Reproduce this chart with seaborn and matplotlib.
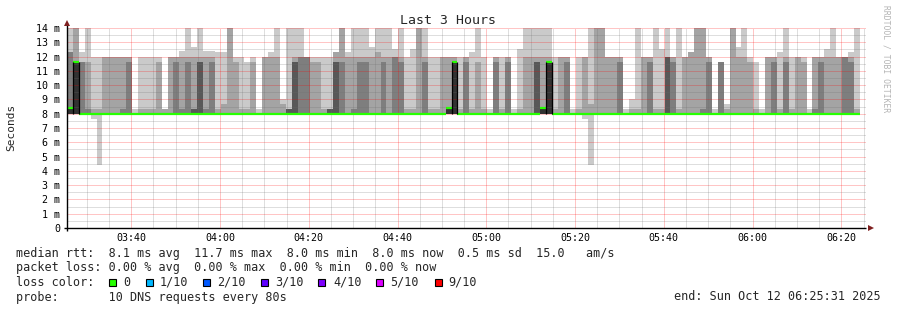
import numpy as np
import pandas as pd
import matplotlib
matplotlib.use("Agg")
import matplotlib.pyplot as plt
import matplotlib.dates as mdates
from matplotlib.patches import Rectangle
import seaborn as sns

# ---------------- data (ms) ----------------
step_start = "2025-10-12 03:25:30"
step_seconds = 80
view_start = "2025-10-12 03:25:31"
view_end = "2025-10-12 06:25:31"

median_rtt = [8.4, 11.6, 8.0, 8.0, 8.0, 8.0, 8.0, 8.0, 8.0, 8.0,
              8.0, 8.0, 8.0, 8.0, 8.0, 8.0, 8.0, 8.0, 8.0, 8.0,
              8.0, 8.0, 8.0, 8.0, 8.0, 8.0, 8.0, 8.0, 8.0, 8.0,
              8.0, 8.0, 8.0, 8.0, 8.0, 8.0, 8.0, 8.0, 8.0, 8.0,
              8.0, 8.0, 8.0, 8.0, 8.0, 8.0, 8.0, 8.0, 8.0, 8.0,
              8.0, 8.0, 8.0, 8.0, 8.0, 8.0, 8.0, 8.0, 8.0, 8.0,
              8.0, 8.0, 8.0, 8.0, 8.4, 11.6, 8.0, 8.0, 8.0, 8.0,
              8.0, 8.0, 8.0, 8.0, 8.0, 8.0, 8.0, 8.0, 8.0, 8.0,
              8.4, 11.6, 8.0, 8.0, 8.0, 8.0, 8.0, 8.0, 8.0, 8.0,
              8.0, 8.0, 8.0, 8.0, 8.0, 8.0, 8.0, 8.0, 8.0, 8.0,
              8.0, 8.0, 8.0, 8.0, 8.0, 8.0, 8.0, 8.0, 8.0, 8.0,
              8.0, 8.0, 8.0, 8.0, 8.0, 8.0, 8.0, 8.0, 8.0, 8.0,
              8.0, 8.0, 8.0, 8.0, 8.0, 8.0, 8.0, 8.0, 8.0, 8.0,
              8.0, 8.0, 8.0, 8.0]

min_rtt = [8.0, 8.0, 8.0, 8.0, 7.6, 4.4, 8.0, 8.0, 8.0, 8.0,
           8.0, 8.0, 8.0, 8.0, 8.0, 8.0, 8.0, 8.0, 8.0, 8.0,
           8.0, 8.0, 8.0, 8.0, 8.0, 8.0, 8.0, 8.0, 8.0, 8.0,
           8.0, 8.0, 8.0, 8.0, 8.0, 8.0, 8.0, 8.0, 8.0, 8.0,
           8.0, 8.0, 8.0, 8.0, 8.0, 8.0, 8.0, 8.0, 8.0, 8.0,
           8.0, 8.0, 8.0, 8.0, 8.0, 8.0, 8.0, 8.0, 8.0, 8.0,
           8.0, 8.0, 8.0, 8.0, 8.0, 8.0, 8.0, 8.0, 8.0, 8.0,
           8.0, 8.0, 8.0, 8.0, 8.0, 8.0, 8.0, 8.0, 8.0, 8.0,
           8.0, 8.0, 8.0, 8.0, 8.0, 8.0, 8.0, 7.6, 4.4, 8.0,
           8.0, 8.0, 8.0, 8.0, 8.0, 8.0, 8.0, 8.0, 8.0, 8.0,
           8.0, 8.0, 8.0, 8.0, 8.0, 8.0, 8.0, 8.0, 8.0, 8.0,
           8.0, 8.0, 8.0, 8.0, 8.0, 8.0, 8.0, 8.0, 8.0, 8.0,
           8.0, 8.0, 8.0, 8.0, 8.0, 8.0, 8.0, 8.0, 8.0, 8.0,
           8.0, 8.0, 8.0, 8.0]

ping7 = [8.4, 11.6, 8.0, 8.0, 8.0, 8.0, 8.0, 8.0, 8.0, 8.0,
         8.0, 8.0, 8.0, 8.0, 8.0, 8.0, 8.0, 8.0, 8.0, 8.0,
         8.0, 8.3, 11.6, 8.0, 8.0, 8.0, 8.0, 8.0, 8.0, 8.0,
         8.0, 8.0, 8.0, 8.0, 8.0, 8.0, 8.0, 8.3, 11.6, 8.0,
         8.0, 8.0, 8.0, 8.0, 8.3, 11.6, 8.0, 8.0, 8.0, 8.0,
         8.0, 8.0, 8.0, 8.0, 8.0, 8.0, 8.0, 8.0, 8.0, 8.0,
         8.0, 8.0, 8.0, 8.0, 8.4, 11.6, 8.0, 8.0, 8.0, 8.0,
         8.0, 8.0, 8.0, 8.0, 8.0, 8.0, 8.0, 8.0, 8.0, 11.6,
         8.4, 11.6, 8.0, 8.0, 8.0, 8.0, 8.0, 8.0, 8.0, 8.0,
         8.0, 8.0, 8.0, 8.0, 8.0, 8.0, 8.0, 8.0, 8.0, 8.0,
         8.0, 12.0, 8.0, 8.0, 8.0, 8.0, 8.0, 8.0, 8.0, 8.0,
         8.0, 8.0, 8.0, 8.0, 8.0, 8.0, 8.0, 8.0, 8.0, 8.0,
         8.0, 8.0, 8.0, 8.0, 8.0, 8.0, 8.0, 8.0, 8.0, 8.0,
         8.0, 8.0, 8.0, 8.0]

ping8 = [12.3, 11.6, 11.6, 8.3, 8.0, 8.0, 8.0, 8.0, 8.0, 8.3,
         11.6, 8.0, 8.0, 8.0, 8.0, 8.0, 8.0, 8.0, 11.6, 8.3,
         11.6, 8.3, 11.6, 8.3, 11.6, 8.0, 8.0, 8.0, 8.0, 8.0,
         8.0, 8.0, 8.0, 8.0, 8.0, 8.0, 8.0, 8.3, 11.6, 12.0,
         12.0, 8.0, 8.0, 8.0, 8.3, 11.6, 11.6, 8.0, 8.3, 11.6,
         11.6, 8.0, 8.0, 11.6, 8.0, 12.0, 11.6, 8.0, 8.0, 8.0,
         11.6, 8.0, 8.0, 8.0, 8.4, 11.6, 8.0, 11.6, 8.0, 8.0,
         8.0, 8.0, 11.6, 8.0, 11.6, 8.0, 8.0, 8.0, 8.0, 11.6,
         8.4, 11.6, 8.0, 8.0, 11.6, 8.0, 8.0, 8.0, 8.0, 8.0,
         8.0, 8.0, 8.0, 11.6, 8.0, 8.0, 8.0, 8.0, 11.6, 8.0,
         8.0, 12.0, 11.6, 8.0, 8.0, 8.0, 8.0, 8.3, 11.6, 8.0,
         11.6, 8.0, 8.0, 8.0, 8.0, 8.0, 8.0, 8.0, 8.0, 11.6,
         8.0, 11.6, 8.0, 8.0, 8.0, 8.0, 8.3, 11.6, 8.0, 8.0,
         8.0, 12.0, 11.6, 8.0]

ping9 = [12.3, 14.0, 11.6, 11.6, 8.3, 8.3, 12.0, 12.0, 12.0, 12.0,
         12.0, 8.0, 8.3, 8.3, 8.3, 11.6, 8.3, 12.0, 12.0, 12.0,
         12.0, 12.0, 12.0, 12.0, 12.0, 8.3, 8.7, 14.0, 11.6, 8.3,
         8.3, 11.6, 8.0, 12.0, 12.0, 12.0, 8.7, 8.3, 12.0, 12.0,
         12.0, 11.6, 11.6, 8.3, 8.3, 12.3, 14.0, 12.0, 12.0, 12.0,
         12.0, 12.0, 12.3, 12.0, 12.0, 12.0, 12.0, 8.3, 8.3, 14.0,
         12.0, 8.3, 8.3, 12.0, 12.0, 12.0, 8.3, 12.0, 8.3, 11.6,
         8.3, 8.0, 12.0, 8.3, 12.0, 8.0, 8.3, 12.0, 12.0, 12.0,
         12.0, 12.0, 8.3, 12.0, 12.0, 8.0, 8.3, 12.0, 8.7, 14.0,
         14.0, 12.0, 12.0, 12.0, 8.0, 8.3, 8.3, 12.0, 12.0, 8.3,
         8.3, 12.0, 12.0, 8.3, 12.0, 12.3, 14.0, 14.0, 12.0, 8.0,
         11.6, 8.3, 14.0, 12.0, 12.0, 11.6, 8.3, 8.0, 12.0, 12.0,
         8.3, 12.0, 8.3, 12.0, 11.6, 8.0, 12.0, 12.0, 12.0, 12.0,
         12.0, 12.0, 12.0, 8.3]

max_rtt = [14.0, 14.0, 12.3, 14.0, 12.0, 12.0, 12.0, 12.0, 12.0, 12.0,
           12.0, 8.3, 12.0, 12.0, 12.0, 12.0, 8.3, 12.0, 12.0, 12.4,
           14.0, 12.65, 14.0, 12.4, 12.4, 12.3, 12.3, 14.0, 12.0, 12.0,
           11.6, 12.0, 8.3, 12.0, 12.3, 14.0, 9.0, 14.0, 14.0, 14.0,
           12.0, 12.0, 12.0, 12.0, 12.0, 12.3, 14.0, 12.3, 14.0, 14.0,
           14.0, 12.65, 14.0, 14.0, 14.0, 12.5, 14.0, 12.0, 12.5, 14.0,
           14.0, 12.0, 12.0, 12.0, 12.0, 12.0, 12.0, 12.0, 12.3, 14.0,
           12.0, 8.3, 12.0, 12.0, 12.0, 8.3, 12.5, 14.0, 14.0, 14.0,
           14.0, 14.0, 12.0, 12.0, 12.0, 8.3, 12.0, 12.0, 14.0, 14.0,
           14.0, 12.0, 12.0, 12.0, 8.3, 9.0, 14.0, 12.0, 12.0, 14.0,
           12.5, 14.0, 12.0, 14.0, 12.0, 12.3, 14.0, 14.0, 12.0, 8.3,
           11.6, 8.7, 14.0, 12.65, 14.0, 12.0, 11.6, 8.3, 12.0, 12.0,
           12.3, 14.0, 12.0, 12.0, 12.0, 8.3, 12.0, 12.0, 12.5, 14.0,
           12.0, 12.0, 12.3, 14.0]

floor_rtt = 8.0  # pings 2..5 sit on the 8.0 ms floor

smoke_colors = ["#cacaca", "#a4a4a4", "#7e7e7e", "#585858", "#323232"]
loss_labels = ["0", "1/10", "2/10", "3/10", "4/10", "5/10", "9/10"]
loss_colors = ["#26ff00", "#00b8ff", "#0059ff", "#5e00ff", "#7e00ff", "#dd00ff", "#ff0000"]
y_tick_labels = ["0", "1 m", "2 m", "3 m", "4 m", "5 m", "6 m", "7 m",
                 "8 m", "9 m", "10 m", "11 m", "12 m", "13 m", "14 m"]

stats_line1 = "median rtt:  8.1 ms avg  11.7 ms max  8.0 ms min  8.0 ms now  0.5 ms sd  15.0   am/s"
stats_line2 = "packet loss: 0.00 % avg  0.00 % max  0.00 % min  0.00 % now"
probe_line = "probe:       10 DNS requests every 80s"
end_line = "end: Sun Oct 12 06:25:31 2025"

# ---------------- figure ----------------
sns.set_theme(style="white")
plt.rcParams["font.family"] = ["DejaVu Sans Mono", "DejaVu Sans"]

W, H = 897, 310
fig = plt.figure(figsize=(W / 100, H / 100), dpi=100)
ax = fig.add_axes([67 / W, 82 / H, 798.8 / W, 200 / H])
ax.set_facecolor("white")

n = len(median_rtt)
edges = pd.date_range(step_start, periods=n + 1, freq=f"{step_seconds}s")
xe = mdates.date2num(edges.values)
x0, x1 = xe[:-1], xe[1:]

def ext(a):
    a = np.asarray(a, dtype=float)
    return np.append(a, a[-1])

floor = np.full(n, floor_rtt)
low5 = np.minimum(floor, np.asarray(median_rtt))
bands = [(min_rtt, max_rtt), (floor, ping9), (floor, ping8), (floor, ping7), (low5, median_rtt)]
for (lo, hi), c in zip(bands, smoke_colors):
    ax.fill_between(xe, ext(lo), ext(hi), step="post", color=c, linewidth=0, zorder=1)

# median line (loss 0 -> green)
ax.hlines(median_rtt, x0, x1, color=loss_colors[0], linewidth=1.6, zorder=4)
med = np.asarray(median_rtt)
jump = med > 9
ax.vlines(x0[jump], floor_rtt, med[jump], color="black", linewidth=0.9, zorder=4)
ax.vlines(x1[jump], floor_rtt, med[jump], color="black", linewidth=0.9, zorder=4)

ax.set_xlim(mdates.date2num(pd.Timestamp(view_start)), mdates.date2num(pd.Timestamp(view_end)))
ax.set_ylim(0, 14)

ax.xaxis.set_major_locator(mdates.MinuteLocator(byminute=[0, 20, 40]))
ax.xaxis.set_minor_locator(mdates.MinuteLocator(byminute=range(0, 60, 5)))
ax.xaxis.set_major_formatter(mdates.DateFormatter("%H:%M"))
ax.set_yticks(range(15), labels=y_tick_labels)
ax.set_yticks(np.arange(0.5, 14, 1.0), minor=True)

ax.set_axisbelow(False)
ax.grid(which="minor", color="#6e6e6e", alpha=0.45, linestyle=(0, (1, 1)),
        linewidth=0.72, snap=True)
ax.grid(which="major", color="#ff0000", alpha=0.45, linestyle=(0, (1, 1)),
        linewidth=0.72, snap=True)

ax.tick_params(axis="both", which="both", length=0)
ax.tick_params(axis="y", pad=5, labelsize=7.2, labelcolor="black")
ax.tick_params(axis="x", pad=3.5, labelsize=7.2, labelcolor="black")
for s in ax.spines.values():
    s.set_visible(False)

# axes lines with arrows
ax.plot([-3 / 798.8, 1.0], [0, 0], transform=ax.transAxes, color="black", lw=1.0,
        clip_on=False, zorder=6, solid_capstyle="butt")
ax.plot([0, 0], [-3 / 200, 1.02], transform=ax.transAxes, color="black", lw=1.0,
        clip_on=False, zorder=6, solid_capstyle="butt")
ax.plot([1.006], [0], transform=ax.transAxes, marker=">", ms=4, color="#7f1f1f",
        clip_on=False, zorder=7, markeredgewidth=0)
ax.plot([0], [1.025], transform=ax.transAxes, marker="^", ms=4, color="#7f1f1f",
        clip_on=False, zorder=7, markeredgewidth=0)

def fx(px):
    return px / W

def fy(py):
    return 1 - py / H

fig.text(fx(448), fy(20), "Last 3 Hours", ha="center", va="center", fontsize=9.5)
fig.text(fx(11), fy(127), "Seconds", ha="center", va="center", rotation=90, fontsize=8)
fig.text(fx(886), fy(59), "RRDTOOL / TOBI OETIKER", ha="center", va="center",
         rotation=270, fontsize=5.8, color="#b4b4b4")

fs = 8.5
fig.text(fx(16), fy(254), stats_line1, ha="left", va="center", fontsize=fs)
fig.text(fx(16), fy(268), stats_line2, ha="left", va="center", fontsize=fs)
fig.text(fx(16), fy(282), "loss color:", ha="left", va="center", fontsize=fs)
sq_x = [109, 146, 203, 261, 318, 376, 435]
lab_x = [123, 160, 217, 275, 333, 390, 448]
for sx, lx, lab, col in zip(sq_x, lab_x, loss_labels, loss_colors):
    fig.patches.append(Rectangle((fx(sx), fy(285.5)), 7 / W, 7 / H, transform=fig.transFigure,
                                 facecolor=col, edgecolor="black", linewidth=0.8))
    fig.text(fx(lx), fy(282), lab, ha="left", va="center", fontsize=fs)
fig.text(fx(16), fy(297), probe_line, ha="left", va="center", fontsize=fs)
fig.text(fx(881), fy(297), end_line, ha="right", va="center", fontsize=fs)

fig.savefig("out.png", dpi=100, facecolor="white")
